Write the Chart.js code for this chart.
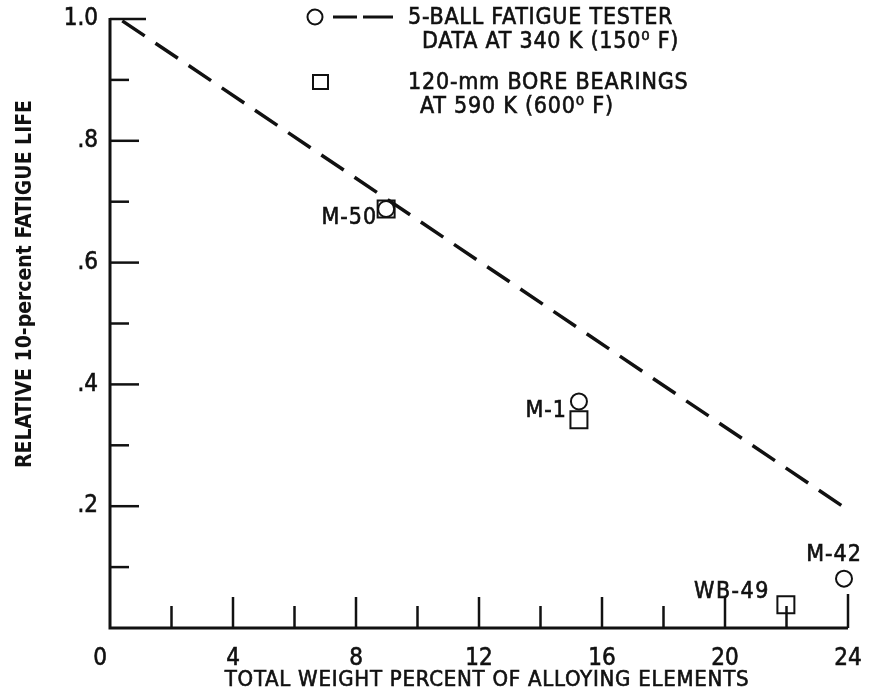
<!DOCTYPE html>
<html>
<head>
<meta charset="utf-8">
<script src="https://cdn.jsdelivr.net/npm/chart.js@4.4.1/dist/chart.umd.min.js"></script>
<style>
  html, body { margin: 0; padding: 0; background: #fff; }
  canvas { display: block; }
</style>
</head>
<body>
<canvas id="chart" width="870" height="694"></canvas>
<script>
// данные с графика
const xMajorTicks = [0, 4, 8, 12, 16, 20, 24];
const xMinorTicks = [2, 6, 10, 14, 18, 22];
const yMajorTicks = [0.2, 0.4, 0.6, 0.8, 1.0];
const yMinorTicks = [0.1, 0.3, 0.5, 0.7, 0.9];
const yTickLabels = ['.2', '.4', '.6', '.8', '1.0'];

// 5-ball fatigue tester (кружки)
const ballNames = ['M-50', 'M-1', 'M-42'];
const ballX = [8.98, 15.25, 23.87];
const ballY = [0.688, 0.372, 0.081];

// 120-mm bore bearings (квадраты)
const bearingNames = ['M-50', 'M-1', 'WB-49'];
const bearingX = [8.98, 15.25, 21.98];
const bearingY = [0.688, 0.342, 0.038];

// штриховая линия
const lineX = [0.4, 24.0];
const lineY = [0.997, 0.194];

const FONT = '"DejaVu Sans Condensed", "Liberation Sans Narrow", sans-serif';
const INK = '#111';

const toPoints = (xs, ys) => xs.map((x, i) => ({ x: x, y: ys[i] }));

// текст с разрядкой и лёгкой обводкой (как у трафаретного шрифта)
function spaced(ctx, text, x, y, spacing) {
    ctx.letterSpacing = spacing + 'px';
    ctx.fillText(text, x, y);
    ctx.strokeText(text, x, y);
    ctx.letterSpacing = '0px';
}

// рисуем оси, засечки, подписи и легенду
const decorPlugin = {
    id: 'decor',
    afterDatasetsDraw(chart) {
        const ctx = chart.ctx;
        const xs = chart.scales.x, ys = chart.scales.y;
        const x0 = xs.getPixelForValue(0), y0 = ys.getPixelForValue(0);
        const x24 = xs.getPixelForValue(24), y1 = ys.getPixelForValue(1.0);
        ctx.save();
        ctx.strokeStyle = INK;
        ctx.fillStyle = INK;
        ctx.lineCap = 'butt';

        // оси
        ctx.lineWidth = 3;
        ctx.beginPath();
        ctx.moveTo(x0, y1 - 1);
        ctx.lineTo(x0, y0);
        ctx.lineTo(x24, y0);
        ctx.stroke();

        // засечки по Y (внутрь)
        ctx.lineWidth = 2.5;
        yMajorTicks.forEach(v => {
            const p = ys.getPixelForValue(v);
            const len = v === 1.0 ? 36 : 29;
            ctx.beginPath(); ctx.moveTo(x0, p); ctx.lineTo(x0 + len, p); ctx.stroke();
        });
        yMinorTicks.forEach(v => {
            const p = ys.getPixelForValue(v);
            ctx.beginPath(); ctx.moveTo(x0, p); ctx.lineTo(x0 + 19, p); ctx.stroke();
        });

        // засечки по X (вверх)
        xMajorTicks.forEach(v => {
            if (v === 0) return;
            const p = xs.getPixelForValue(v);
            const len = v === 24 ? 34 : 31;
            ctx.beginPath(); ctx.moveTo(p, y0); ctx.lineTo(p, y0 - len); ctx.stroke();
        });
        xMinorTicks.forEach(v => {
            const p = xs.getPixelForValue(v);
            ctx.beginPath(); ctx.moveTo(p, y0); ctx.lineTo(p, y0 - 22); ctx.stroke();
        });

        // подписи делений
        ctx.lineWidth = 0.6;
        ctx.font = '24px ' + FONT;
        ctx.textAlign = 'right';
        ctx.textBaseline = 'middle';
        yMajorTicks.forEach((v, i) => {
            spaced(ctx, yTickLabels[i], x0 - 12, ys.getPixelForValue(v), 0);
        });
        ctx.textAlign = 'center';
        xMajorTicks.forEach(v => {
            const p = xs.getPixelForValue(v) - (v === 0 ? 10 : 0);
            spaced(ctx, String(v), p, y0 + 31, 0);
        });

        // заголовки осей
        ctx.font = '22px ' + FONT;
        spaced(ctx, 'TOTAL WEIGHT PERCENT OF ALLOYING ELEMENTS', 487, 680, 0.75);
        ctx.save();
        ctx.translate(26, 284);
        ctx.rotate(-Math.PI / 2);
        ctx.font = 'bold 21px ' + FONT;
        ctx.fillText('RELATIVE 10-percent FATIGUE LIFE', 0, 0);
        ctx.restore();

        // подписи точек
        ctx.font = '23px ' + FONT;
        ctx.textAlign = 'right';
        spaced(ctx, bearingNames[0], xs.getPixelForValue(bearingX[0]) - 9, ys.getPixelForValue(bearingY[0]) + 9, 1);
        spaced(ctx, bearingNames[1], xs.getPixelForValue(bearingX[1]) - 12, ys.getPixelForValue(ballY[1]) + 10, 1);
        spaced(ctx, bearingNames[2], xs.getPixelForValue(bearingX[2]) - 16, ys.getPixelForValue(bearingY[2]) - 13, 1.5);
        ctx.textAlign = 'center';
        spaced(ctx, ballNames[2], xs.getPixelForValue(ballX[2]) - 10, ys.getPixelForValue(ballY[2]) - 24, 1);

        // легенда
        ctx.lineWidth = 2;
        ctx.beginPath(); ctx.arc(315, 17, 7.5, 0, Math.PI * 2); ctx.stroke();
        ctx.lineWidth = 3;
        ctx.beginPath();
        ctx.moveTo(333, 17); ctx.lineTo(357, 17);
        ctx.moveTo(363, 17); ctx.lineTo(393, 17);
        ctx.stroke();
        ctx.lineWidth = 2;
        ctx.strokeRect(313, 75, 15, 14);
        ctx.lineWidth = 0.6;
        ctx.font = '23px ' + FONT;
        ctx.textAlign = 'left';
        spaced(ctx, '5-BALL FATIGUE TESTER', 408, 18, 0.8);
        spaced(ctx, 'DATA AT 340 K (150\u2070 F)', 422, 42, 0.8);
        spaced(ctx, '120-mm BORE BEARINGS', 408, 83, 0.8);
        spaced(ctx, 'AT 590 K (600\u2070 F)', 420, 107, 0.8);
        ctx.restore();
    }
};

const ctx = document.getElementById('chart').getContext('2d');
const chart = new Chart(ctx, {
    type: 'scatter',
    data: {
        datasets: [
            {
                label: 'line',
                data: toPoints(lineX, lineY),
                showLine: true,
                borderColor: INK,
                borderWidth: 3.5,
                borderDash: [27, 13],
                pointRadius: 0,
                clip: false
            },
            {
                label: '5-BALL FATIGUE TESTER',
                data: toPoints(ballX, ballY),
                pointStyle: 'circle',
                pointRadius: 8,
                backgroundColor: '#fff',
                borderColor: INK,
                borderWidth: 2,
                clip: false
            },
            {
                label: '120-mm BORE BEARINGS',
                data: toPoints(bearingX, bearingY),
                pointStyle: 'rect',
                pointRadius: 12,
                backgroundColor: 'rgba(255,255,255,0)',
                borderColor: INK,
                borderWidth: 2,
                clip: false
            }
        ]
    },
    options: {
        responsive: false,
        animation: false,
        devicePixelRatio: 1,
        layout: { padding: { left: 110, right: 22, top: 19, bottom: 66 } },
        plugins: { legend: { display: false }, tooltip: { enabled: false } },
        elements: { line: { tension: 0 } },
        scales: {
            x: { type: 'linear', min: 0, max: 24, display: false },
            y: { type: 'linear', min: 0, max: 1.0, display: false }
        }
    },
    plugins: [decorPlugin]
});
</script>
</body>
</html>
